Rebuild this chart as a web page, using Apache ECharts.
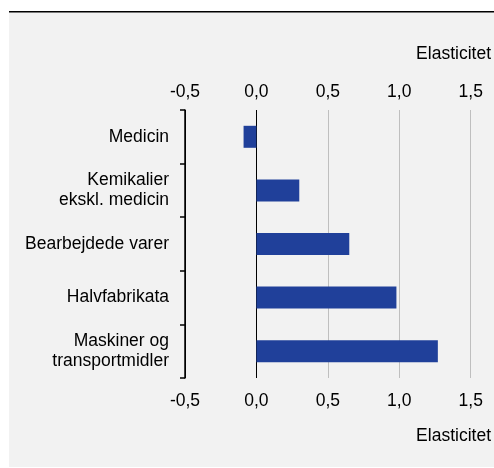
<!DOCTYPE html>
<html><head><meta charset="utf-8">
<script src="https://cdn.jsdelivr.net/npm/echarts@6/dist/echarts.min.js"></script>
<style>html,body{margin:0;padding:0;background:#fff}#c{width:494px;height:468px}</style>
</head><body><div id="c"></div>
<script>
const categories = ['Medicin', 'Kemikalier\nekskl. medicin', 'Bearbejdede varer', 'Halvfabrikata', 'Maskiner og\ntransportmidler'];
const values = [-0.09, 0.30, 0.65, 0.98, 1.27];
const axisName = 'Elasticitet';
const xMin = -0.5, xMax = 1.5, xStep = 0.5;

const fmt = v => v.toFixed(1).replace('.', ',');
const font = 'Liberation Sans, Arial, sans-serif';
const fs = 17.5;
const chart = echarts.init(document.getElementById('c'), null, {renderer: 'canvas'});
const xCommon = {
  type: 'value', min: xMin, max: xMax, interval: xStep,
  axisLine: {show: false}, axisTick: {show: false},
  axisLabel: {formatter: fmt, color: '#000', fontSize: fs, fontFamily: font}
};
chart.setOption({
  animation: false,
  backgroundColor: '#ffffff',
  graphic: [
    {type: 'rect', z: -10, shape: {x: 9, y: 12, width: 485, height: 455}, style: {fill: '#f2f2f2'}},
    {type: 'rect', z: -9, shape: {x: 9, y: 11, width: 485, height: 1.5}, style: {fill: '#000'}},
    {type: 'text', right: 3, top: 45, style: {text: axisName, fill: '#000', font: fs + 'px ' + font}},
    {type: 'text', right: 3, top: 427, style: {text: axisName, fill: '#000', font: fs + 'px ' + font}}
  ],
  grid: {left: 185, right: 23.3, top: 110, bottom: 90, containLabel: false},
  xAxis: [
    Object.assign({}, xCommon, {position: 'top', axisLabel: Object.assign({}, xCommon.axisLabel, {margin: 8.5}),
      splitLine: {show: true, lineStyle: {color: ['#000', '#000', '#bfbfbf', '#bfbfbf', '#bfbfbf'], width: 1}}}),
    Object.assign({}, xCommon, {position: 'bottom', axisLabel: Object.assign({}, xCommon.axisLabel, {margin: 14}),
      splitLine: {show: false}})
  ],
  yAxis: {
    type: 'category', data: categories, inverse: true,
    axisLine: {show: true, onZero: false, lineStyle: {color: '#000', width: 1.5}},
    axisTick: {show: true, length: 5, lineStyle: {color: '#000', width: 1.5}},
    axisLabel: {color: '#000', fontSize: fs, fontFamily: font, margin: 16, lineHeight: 20, align: 'right'}
  },
  series: [{
    type: 'bar', xAxisIndex: 0, data: values, barWidth: 22,
    itemStyle: {color: '#20409a'}
  }]
});
</script></body></html>
